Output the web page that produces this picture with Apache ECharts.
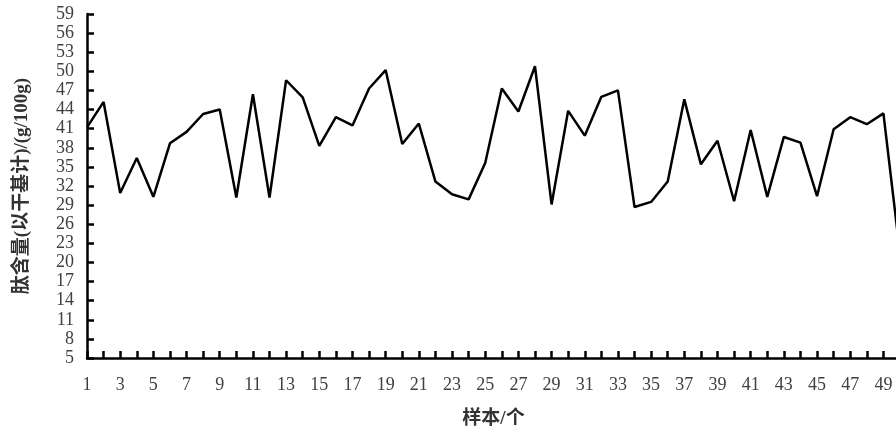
<!DOCTYPE html>
<html>
<head>
<meta charset="utf-8">
<script src="https://cdn.jsdelivr.net/npm/echarts@6/dist/echarts.min.js"></script>
<style>html,body{margin:0;padding:0;background:#fff}#c{width:896px;height:432px}</style>
</head>
<body>
<div id="c"></div>
<script>
// Sample numbers (categories)
const categories = [];
for (let i = 1; i <= 50; i++) categories.push(String(i));
// Peptide content values
const peptideValues = [
  41.2, 45.2, 30.9, 36.4, 30.3, 38.7, 40.5, 43.3, 44.0, 30.2,
  46.4, 30.2, 48.6, 45.9, 38.3, 42.8, 41.5, 47.3, 50.2, 38.6,
  41.8, 32.7, 30.7, 29.9, 35.6, 47.3, 43.7, 50.8, 29.1, 43.8,
  39.9, 46.0, 47.0, 28.7, 29.5, 32.7, 45.6, 35.4, 39.1, 29.6,
  40.8, 30.3, 39.7, 38.8, 30.4, 40.9, 42.8, 41.7, 43.4, 21.4
];
const yMin = 5, yMax = 59, yStep = 3;
const yName = '肽含量(以干基计)/(g/100g)';
const xName = '样本/个';

const chart = echarts.init(document.getElementById('c'), null, {renderer: 'canvas'});
const labelFont = 'Liberation Serif, Times New Roman, serif';
const nameFont = 'Liberation Serif, Noto Sans CJK SC, serif';
chart.setOption({
  animation: false,
  backgroundColor: '#fff',
  grid: {left: 87, width: 813, top: 14, bottom: 74, containLabel: false, outerBoundsMode: 'none'},
  xAxis: {
    type: 'category',
    data: categories,
    boundaryGap: false,
    name: xName,
    nameLocation: 'middle',
    nameGap: 52,
    nameTextStyle: {fontFamily: nameFont, fontWeight: 'bold', fontSize: 19, color: '#333'},
    axisLine: {lineStyle: {color: '#000', width: 2.5}},
    axisTick: {show: true, inside: true, length: 7, interval: 0, lineStyle: {color: '#000', width: 2.5}},
    axisLabel: {interval: 1, margin: 18, fontFamily: labelFont, fontSize: 18, color: '#404040'},
    splitLine: {show: false}
  },
  yAxis: {
    type: 'value',
    min: yMin, max: yMax, interval: yStep,
    name: yName,
    nameLocation: 'middle',
    nameGap: 55,
    nameRotate: 90,
    nameTextStyle: {fontFamily: nameFont, fontWeight: 'bold', fontSize: 19, color: '#333'},
    axisLine: {show: true, lineStyle: {color: '#000', width: 2.5}},
    axisTick: {show: true, inside: true, length: 7, lineStyle: {color: '#000', width: 2.5}},
    axisLabel: {margin: 13, fontFamily: labelFont, fontSize: 18, color: '#404040', lineHeight: 18},
    splitLine: {show: false}
  },
  series: [{
    type: 'line',
    data: peptideValues,
    showSymbol: false,
    symbol: 'none',
    lineStyle: {color: '#000', width: 2.5},
    clip: true
  }]
});
</script>
</body>
</html>
